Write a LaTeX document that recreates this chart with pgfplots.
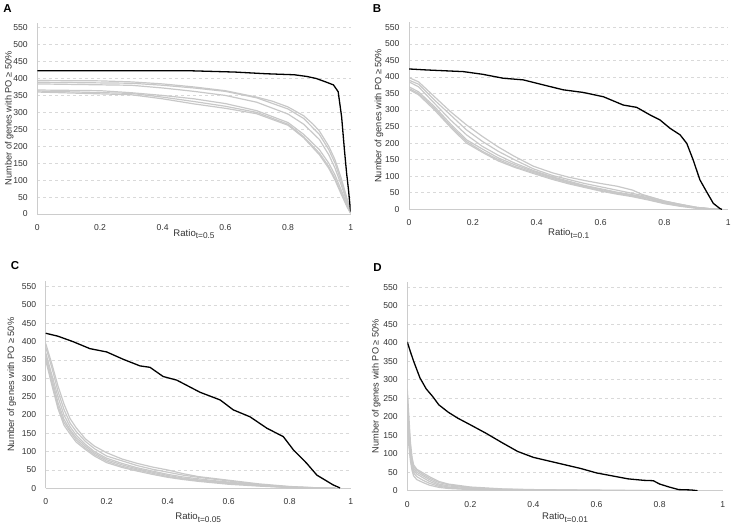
\documentclass[border=0pt]{standalone}
\usepackage{pgfplots}
\pgfplotsset{compat=1.18}
\usepackage{fontspec}
\setmainfont{Liberation Sans}

\definecolor{gridc}{HTML}{D9D9D9}
\definecolor{axc}{HTML}{CCCCCC}
\definecolor{runc}{HTML}{C8C8C8}

\newcommand{\ratio}[1]{Ratio\raisebox{-2.6pt}{\fontsize{8.3}{9}\selectfont #1}}

\pgfplotsset{
  panel/.style={
    scale only axis, anchor=south west,
    xmin=0, xmax=1, ymin=0, ymax=565,
    axis x line*=bottom, axis y line*=left,
    axis line style={axc, line width=0.8pt},
    xtick={0,0.2,0.4,0.6,0.8,1},
    ytick={0,50,100,150,200,250,300,350,400,450,500,550},
    major tick length=0pt,
    ymajorgrids, grid style={gridc, dashed, line width=0.6pt},
    tick label style={font=\fontsize{8.6}{10}\selectfont, text=black!80},
    /pgf/number format/assume math mode=true,
    xticklabel style={yshift=-7pt},
    yticklabel style={xshift=-6pt},
    ylabel={Number of genes with PO ≥ 50\%},
    ylabel style={at={(axis description cs:0,0.5)}, anchor=center,
      font=\fontsize{9.2}{10}\selectfont, text=black!80},
    xlabel style={at={(axis description cs:0.5,0)}, anchor=north, inner sep=0pt,
      font=\fontsize{9.6}{12}\selectfont, text=black!80},
  },
  run/.style={runc, line width=1.2pt},
  obs/.style={black, line width=1.3pt},
}

\begin{document}
\begin{tikzpicture}
\useasboundingbox (0,0) rectangle (733pt,525pt);

% ---------- A ----------
\begin{axis}[panel, at={(37.3pt,311pt)}, width=313.4pt, height=191.4pt,
  xlabel={\ratio{t=0.5}}, xlabel style={yshift=-15pt},
  ylabel style={yshift=28pt}]
\addplot[run] coordinates {(0,394)(0.2,393)(0.3,390)(0.4,384)(0.5,375)(0.6,364)(0.7,345)(0.75,333)(0.8,316)(0.85,290)(0.88,265)(0.9,245)(0.93,200)(0.95,160)(0.97,105)(0.99,40)(1,5)};
\addplot[run] coordinates {(0,389)(0.3,386)(0.4,380)(0.5,372)(0.6,362)(0.7,343)(0.8,310)(0.85,282)(0.9,235)(0.93,190)(0.95,150)(0.97,95)(0.99,35)(1,4)};
\addplot[run] coordinates {(0,384)(0.3,380)(0.4,372)(0.5,362)(0.6,350)(0.7,330)(0.8,295)(0.85,265)(0.9,220)(0.93,175)(0.95,135)(0.97,85)(0.99,30)(1,3)};
\addplot[run] coordinates {(0,366)(0.2,364)(0.3,358)(0.4,350)(0.5,340)(0.6,326)(0.7,305)(0.8,270)(0.85,235)(0.9,190)(0.93,150)(0.95,115)(0.97,70)(0.99,25)(1,3)};
\addplot[run] coordinates {(0,363)(0.3,356)(0.4,345)(0.5,332)(0.6,318)(0.7,300)(0.8,265)(0.85,228)(0.9,180)(0.93,140)(0.95,105)(0.97,62)(0.99,20)(1,2)};
\addplot[run] coordinates {(0,360)(0.3,352)(0.4,340)(0.5,325)(0.6,312)(0.7,296)(0.8,262)(0.85,225)(0.9,175)(0.93,135)(0.95,100)(0.97,58)(0.99,18)(1,2)};
\addplot[obs] coordinates {(0,423)(0.48,423)(0.63,419)(0.73,414)(0.82,411)(0.86,406)(0.89,400)(0.92,390)(0.945,381)(0.96,361)(0.971,287)(0.98,189)(0.987,120)(0.993,71)(0.998,22)(1,7)};
\end{axis}

% ---------- B ----------
\begin{axis}[panel, at={(409pt,315.7pt)}, width=319.3pt, height=187pt,
  xlabel={\ratio{t=0.1}}, xlabel style={yshift=-19pt},
  ylabel style={yshift=30pt}]
\addplot[run] coordinates {(0,398)(0.03,385)(0.08,340)(0.13,295)(0.18,255)(0.23,220)(0.28,188)(0.33,160)(0.39,130)(0.45,110)(0.5,97)(0.55,87)(0.6,78)(0.65,70)(0.7,58)(0.73,45)(0.8,25)(0.85,15)(0.9,6)(0.95,1)(0.97,0)};
\addplot[run] coordinates {(0,390)(0.03,378)(0.08,330)(0.13,285)(0.18,240)(0.23,205)(0.28,175)(0.33,150)(0.39,122)(0.45,102)(0.5,90)(0.55,78)(0.6,68)(0.65,58)(0.7,48)(0.75,38)(0.8,25)(0.85,15)(0.9,6)(0.95,1)(0.97,0)};
\addplot[run] coordinates {(0,385)(0.03,370)(0.08,320)(0.13,270)(0.18,225)(0.23,190)(0.28,163)(0.33,140)(0.39,117)(0.45,98)(0.5,85)(0.55,72)(0.6,62)(0.65,52)(0.7,44)(0.75,35)(0.8,22)(0.85,13)(0.9,5)(0.95,1)(0.97,0)};
\addplot[run] coordinates {(0,370)(0.03,355)(0.08,310)(0.13,258)(0.18,210)(0.23,182)(0.28,155)(0.33,135)(0.39,114)(0.45,96)(0.5,82)(0.55,70)(0.6,60)(0.65,50)(0.7,42)(0.75,33)(0.8,20)(0.85,12)(0.9,5)(0.95,1)(0.97,0)};
\addplot[run] coordinates {(0,365)(0.03,350)(0.08,305)(0.13,252)(0.18,205)(0.23,175)(0.28,150)(0.33,130)(0.39,111)(0.45,93)(0.5,80)(0.55,68)(0.6,57)(0.65,48)(0.7,40)(0.75,30)(0.8,18)(0.85,10)(0.9,4)(0.95,1)(0.97,0)};
\addplot[run] coordinates {(0,362)(0.03,346)(0.08,300)(0.13,248)(0.18,200)(0.23,172)(0.28,146)(0.33,127)(0.39,108)(0.45,90)(0.5,77)(0.55,66)(0.6,55)(0.65,46)(0.7,38)(0.75,28)(0.8,17)(0.85,9)(0.9,3)(0.95,0.5)(0.97,0)};
\addplot[obs] coordinates {(0,424)(0.055,421)(0.17,416)(0.23,408)(0.295,396)(0.358,391)(0.42,376)(0.483,361)(0.546,353)(0.609,340)(0.671,315)(0.713,308)(0.755,285)(0.786,270)(0.817,245)(0.849,225)(0.87,199)(0.89,149)(0.911,89)(0.932,53)(0.953,18)(0.974,2)(0.98,0)};
\end{axis}

% ---------- C ----------
\begin{axis}[panel, at={(45.7pt,36.7pt)}, width=305pt, height=207.1pt,
  xlabel={\ratio{t=0.05}}, xlabel style={yshift=-24pt},
  ylabel style={yshift=34pt}]
\addplot[run] coordinates {(0,395)(0.02,340)(0.04,280)(0.06,230)(0.08,190)(0.1,165)(0.13,135)(0.16,115)(0.2,97)(0.25,80)(0.3,68)(0.35,58)(0.4,50)(0.45,40)(0.5,32)(0.55,27)(0.6,22)(0.7,12)(0.8,5)(0.9,1)(0.95,0)};
\addplot[run] coordinates {(0,385)(0.02,330)(0.04,265)(0.06,215)(0.08,178)(0.1,155)(0.13,128)(0.16,108)(0.2,88)(0.25,75)(0.3,62)(0.35,52)(0.4,44)(0.45,36)(0.5,30)(0.55,25)(0.6,20)(0.7,10)(0.8,4)(0.9,1)(0.95,0)};
\addplot[run] coordinates {(0,370)(0.02,310)(0.04,250)(0.06,200)(0.08,168)(0.1,145)(0.13,120)(0.16,100)(0.2,82)(0.25,68)(0.3,56)(0.35,47)(0.4,38)(0.45,31)(0.5,26)(0.55,21)(0.6,17)(0.7,9)(0.8,3)(0.9,1)(0.95,0)};
\addplot[run] coordinates {(0,360)(0.02,300)(0.04,235)(0.06,188)(0.08,160)(0.1,138)(0.13,115)(0.16,96)(0.2,78)(0.25,64)(0.3,53)(0.35,44)(0.4,35)(0.45,28)(0.5,23)(0.55,19)(0.6,15)(0.7,8)(0.8,3)(0.9,0.5)(0.95,0)};
\addplot[run] coordinates {(0,355)(0.02,290)(0.04,225)(0.06,180)(0.08,155)(0.1,132)(0.13,110)(0.16,92)(0.2,74)(0.25,60)(0.3,50)(0.35,41)(0.4,32)(0.45,26)(0.5,21)(0.55,17)(0.6,13)(0.7,7)(0.8,2)(0.9,0.5)(0.95,0)};
\addplot[run] coordinates {(0,350)(0.02,282)(0.04,218)(0.06,172)(0.08,148)(0.1,126)(0.13,106)(0.16,88)(0.2,70)(0.25,57)(0.3,47)(0.35,38)(0.4,30)(0.45,24)(0.5,19)(0.55,15)(0.6,11)(0.7,6)(0.8,2)(0.9,0)(0.95,0)};
\addplot[obs] coordinates {(0,423)(0.04,415)(0.09,400)(0.145,381)(0.2,372)(0.254,352)(0.309,334)(0.342,330)(0.385,305)(0.43,295)(0.506,262)(0.572,241)(0.615,214)(0.67,195)(0.725,164)(0.779,141)(0.812,105)(0.856,68)(0.889,36)(0.943,9)(0.965,1)};
\end{axis}

% ---------- D ----------
\begin{axis}[panel, at={(407.3pt,34.3pt)}, width=315.4pt, height=209.1pt,
  xlabel={\ratio{t=0.01}}, xlabel style={yshift=-22pt},
  ylabel style={yshift=31pt}]
\addplot[run] coordinates {(0,275)(0.005,200)(0.01,130)(0.015,90)(0.02,70)(0.03,58)(0.05,48)(0.07,38)(0.1,25)(0.13,18)(0.2,10)(0.3,5)(0.4,3)(0.6,1)(0.83,0)};
\addplot[run] coordinates {(0,260)(0.005,180)(0.01,120)(0.015,85)(0.02,65)(0.03,55)(0.05,44)(0.07,34)(0.1,22)(0.13,16)(0.2,8)(0.3,4)(0.4,2)(0.6,1)(0.8,0)};
\addplot[run] coordinates {(0,240)(0.005,165)(0.01,110)(0.015,78)(0.02,60)(0.03,50)(0.05,40)(0.07,30)(0.1,18)(0.13,13)(0.2,7)(0.3,3)(0.4,2)(0.6,0.5)(0.8,0)};
\addplot[run] coordinates {(0,220)(0.005,150)(0.01,100)(0.015,70)(0.02,55)(0.03,45)(0.05,35)(0.07,25)(0.1,15)(0.13,10)(0.2,5)(0.3,3)(0.4,1)(0.6,0.5)(0.8,0)};
\addplot[run] coordinates {(0,200)(0.005,135)(0.01,90)(0.015,62)(0.02,48)(0.03,38)(0.05,28)(0.07,20)(0.1,12)(0.13,8)(0.2,4)(0.3,2)(0.4,1)(0.7,0)};
\addplot[run] coordinates {(0,180)(0.005,120)(0.01,80)(0.015,55)(0.02,40)(0.03,30)(0.05,22)(0.07,15)(0.1,9)(0.13,6)(0.2,3)(0.3,1.5)(0.4,1)(0.7,0)};
\addplot[obs] coordinates {(0,402)(0.01,375)(0.02,350)(0.04,305)(0.06,275)(0.08,255)(0.1,232)(0.13,212)(0.16,196)(0.2,178)(0.25,155)(0.3,130)(0.35,106)(0.4,90)(0.45,80)(0.5,70)(0.55,60)(0.6,48)(0.65,40)(0.7,32)(0.75,28)(0.78,27)(0.8,18)(0.83,10)(0.86,3)(0.9,2)(0.92,0)};
\end{axis}

% panel letters
\node[font=\fontsize{11.5}{12}\selectfont\bfseries] at (7.5pt,516pt) {A};
\node[font=\fontsize{11.5}{12}\selectfont\bfseries] at (377pt,516.5pt) {B};
\node[font=\fontsize{11.5}{12}\selectfont\bfseries] at (15pt,259pt) {C};
\node[font=\fontsize{11.5}{12}\selectfont\bfseries] at (377.5pt,257.5pt) {D};
\end{tikzpicture}
\end{document}
